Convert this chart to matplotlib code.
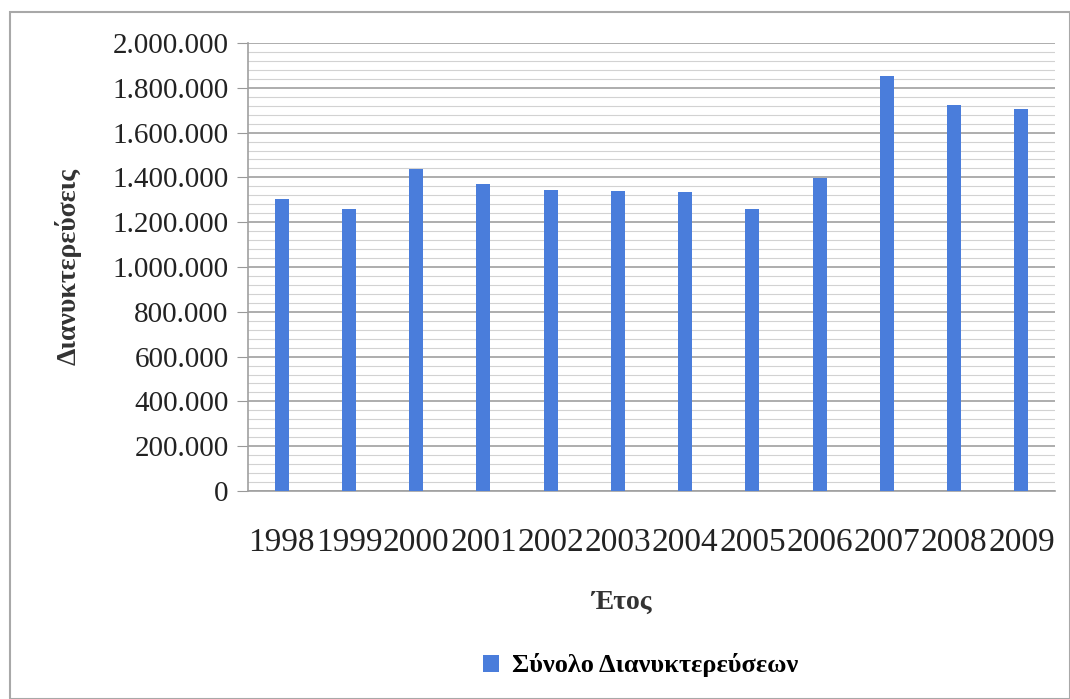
import numpy as np
import matplotlib
matplotlib.use("Agg")
import matplotlib.pyplot as plt
from matplotlib.ticker import FuncFormatter, MultipleLocator
from matplotlib.patches import Rectangle

# data
years = ['1998', '1999', '2000', '2001', '2002', '2003',
         '2004', '2005', '2006', '2007', '2008', '2009']
nights = [1304000, 1259000, 1437000, 1370000, 1344000, 1339000,
          1335000, 1259000, 1397000, 1853000, 1723000, 1705000]

plt.rcParams['font.family'] = ['Liberation Serif', 'DejaVu Serif']

fig = plt.figure(figsize=(10.70, 6.99), dpi=100)
ax = fig.add_axes([0.2318, 0.2976, 0.7542, 0.6409])

x = np.arange(len(years))
ax.bar(x, nights, width=0.21, color='#4a7ddb', zorder=3,
       label='Σύνολο Διανυκτερεύσεων')

ax.set_xlim(-0.5, len(years) - 0.5)
ax.set_ylim(0, 2000000)
ax.yaxis.set_major_locator(MultipleLocator(200000))
ax.yaxis.set_minor_locator(MultipleLocator(40000))
ax.yaxis.set_major_formatter(FuncFormatter(lambda v, p: f'{int(v):,}'.replace(',', '.')))

ax.grid(axis='y', which='major', color='#a0a0a0', linewidth=1.2, zorder=0)
ax.grid(axis='y', which='minor', color='#d2d2d2', linewidth=0.8, zorder=0)

ax.set_xticks(x)
ax.set_xticklabels(years, fontsize=24, color='#222222')
ax.tick_params(axis='x', length=0, pad=26)
ax.tick_params(axis='y', which='major', labelsize=21, length=8, color='#999999',
               labelcolor='#222222', pad=6)
ax.tick_params(axis='y', which='minor', length=0)

for s in ['top', 'right']:
    ax.spines[s].set_visible(False)
for s in ['left', 'bottom']:
    ax.spines[s].set_color('#a0a0a0')
    ax.spines[s].set_linewidth(1.2)

ax.set_ylabel('Διανυκτερεύσεις', fontsize=20, fontweight='bold', color='#333333', labelpad=22)
ax.set_xlabel('Έτος', fontsize=20, fontweight='bold', color='#333333')
ax.xaxis.set_label_coords(0.462, -0.22)

fig.legend(loc='center', bbox_to_anchor=(0.599, 0.048), frameon=False,
           handlelength=0.6, handleheight=0.6, handletextpad=0.5,
           prop={'size': 19, 'weight': 'bold'})

# outer chart frame
fig.patches.append(Rectangle((10 / 1070, 0), 1 - 10 / 1070, 1 - 12 / 699,
                             transform=fig.transFigure, fill=False,
                             edgecolor='#a8a8a8', linewidth=1.5))

fig.savefig('out.png', dpi=100)
